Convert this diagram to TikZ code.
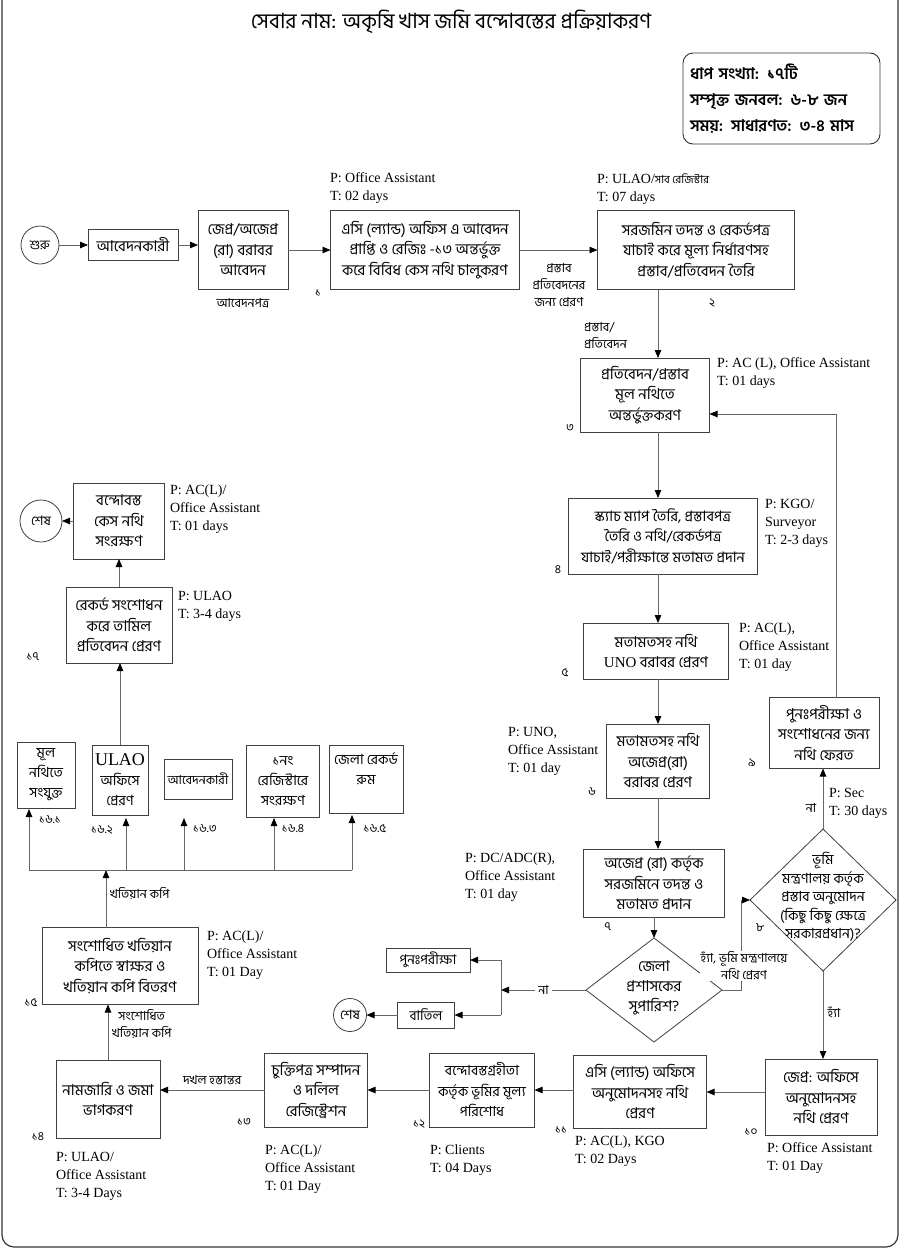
\documentclass[tikz,border=0pt]{standalone}
\usepackage{fontspec}
\setmainfont{Liberation Serif}
\newfontfamily\bn[Script=Bengali]{Hind Siliguri}
\usetikzlibrary{arrows.meta,shapes.geometric}

\newcommand\latn[1]{{\rmfamily #1}}

\tikzset{
  x=1pt, y=-1pt,
  every node/.style={inner sep=0pt, outer sep=0pt},
  box/.style={draw=black!75, line width=0.8pt, align=center, inner xsep=2pt,
    font=\bn\fontsize{15}{20.5}\selectfont},
  smallbox/.style={box, font=\bn\fontsize{14}{20}\selectfont},
  term/.style={draw=black!75, line width=0.8pt, circle,
    font=\bn\fontsize{13}{15}\selectfont},
  dec/.style={draw=black!75, line width=0.8pt, diamond},
  dectext/.style={align=center, font=\bn\fontsize{15}{20}\selectfont},
  conn/.style={draw=black!60, line width=0.8pt},
  arr/.style={conn, -{Triangle[length=8pt,width=6.5pt,color=black]}},
  ptlabel/.style={align=left, anchor=west, font=\fontsize{14}{18}\selectfont},
  note/.style={align=center, font=\bn\fontsize{12.5}{17}\selectfont},
  num/.style={font=\bn\fontsize{12}{14}\selectfont},
}

\begin{document}
\begin{tikzpicture}
\fill[white] (0,0) rectangle (902,1250);
\useasboundingbox (0,0) rectangle (902,1250);

% outer frame
\draw[black!80, line width=1.2pt, rounded corners=12pt] (2,-20) rectangle (898,1247);

% title and summary
\node[font=\bn\fontsize{21}{24}\selectfont] (title) at (451,22)
  {সেবার নাম: অকৃষি খাস জমি বন্দোবস্তের প্রক্রিয়াকরণ};
\node[draw=black!80, line width=0.9pt, rounded corners=10pt, anchor=north west,
  minimum width=197, minimum height=91, text width=183, align=left,
  font=\bn\bfseries\fontsize{16}{26}\selectfont] (info) at (683,53)
  {ধাপ সংখ্যা: ১৭টি\\সম্পৃক্ত জনবল: ৬-৮ জন\\সময়: সাধারণত: ৩-৪ মাস};

% ---------- top row ----------
\node[term, minimum size=38] (start) at (40,245) {শুরু};
\node[box, minimum width=90, minimum height=31] (a0) at (133,245) {আবেদনকারী};
\node[box, minimum width=90, minimum height=79] (b1) at (243,250)
  {জেপ্র/অজেপ্র\\(রা) বরাবর\\আবেদন};
\node[note] (b1n) at (243,303) {আবেদনপত্র};
\node[num] (n1) at (318,293) {১};
\node[box, minimum width=189, minimum height=79] (b2) at (425,250)
  {এসি (ল্যান্ড) অফিস এ আবেদন\\প্রাপ্তি ও রেজিঃ -১৩ অন্তর্ভুক্ত\\করে বিবিধ কেস নথি চালুকরণ};
\node[ptlabel] (p2) at (330,188) {P: Office Assistant\\T: 02 days};
\node[box, minimum width=197, minimum height=79] (b3) at (696,250)
  {সরজমিন তদন্ত ও রেকর্ডপত্র\\যাচাই করে মূল্য নির্ধারণসহ\\প্রস্তাব/প্রতিবেদন তৈরি};
\node[ptlabel] (p3) at (597,189) {P: ULAO/{\bn\fontsize{11}{18}\selectfont সাব রেজিস্টার}\\T: 07 days};
\node[num] (n2) at (712,303) {২};

\draw[arr] (start) -- (a0);
\draw[arr] (a0.east) -- (a0.east -| b1.west);
\draw[arr] (b1) -- (b2);
\draw[arr] (b2) -- (b3);
\node[note] (l23) at (559,285) {প্রস্তাব\\প্রতিবেদনের\\জন্য প্রেরণ};

% ---------- right column ----------
\coordinate (tr) at (658,0);
\node[box, minimum width=129, minimum height=74] (b4) at (645,395)
  {প্রতিবেদন/প্রস্তাব\\মূল নথিতে\\অন্তর্ভুক্তকরণ};
\node[ptlabel] (p4) at (717,373) {P: AC (L), Office Assistant\\T: 01 days};
\node[num] (n3) at (570,428) {৩};
\draw[arr] (b3.south -| tr) -- (b4.north -| tr);
\node[note, align=left, anchor=west] (l34) at (584,336) {প্রস্তাব/\\প্রতিবেদন};

\node[box, font=\bn\fontsize{14.5}{20.5}\selectfont, minimum width=189, minimum height=76] (b5) at (663,536)
  {স্ক্যাচ ম্যাপ তৈরি, প্রস্তাবপত্র\\তৈরি ও নথি/রেকর্ডপত্র\\যাচাই/পরীক্ষান্তে মতামত প্রদান};
\node[ptlabel] (p5) at (765,523) {P: KGO/\\Surveyor\\T: 2-3 days};
\node[num] (n4) at (558,570) {৪};
\draw[arr] (b4.south -| tr) -- (b5.north -| tr);

\node[box, minimum width=145, minimum height=56] (b6) at (656,651)
  {মতামতসহ নথি\\\latn{UNO} বরাবর প্রেরণ};
\node[ptlabel] (p6) at (739,647) {P: AC(L),\\Office Assistant\\T: 01 day};
\node[num] (n5) at (565,673) {৫};
\draw[arr] (b5.south -| tr) -- (b6.north -| tr);

\node[box, minimum width=103, minimum height=74] (b7) at (658,761)
  {মতামতসহ নথি\\অজেপ্র(রা)\\বরাবর প্রেরণ};
\node[ptlabel] (p7) at (508,751) {P: UNO,\\Office Assistant\\T: 01 day};
\node[num] (n6) at (592,792) {৬};
\draw[arr] (b6.south -| tr) -- (b7.north -| tr);

\node[box, minimum width=141, minimum height=68] (b8) at (654,883)
  {অজেপ্র (রা) কর্তৃক\\সরজমিনে তদন্ত ও\\মতামত প্রদান};
\node[ptlabel] (p8) at (465,877) {P: DC/ADC(R),\\Office Assistant\\T: 01 day};
\node[num] (n7) at (608,927) {৭};
\draw[arr] (b7.south -| tr) -- (b8.north -| tr);

% district recommendation
\node[dec, minimum width=136, minimum height=104] (d7) at (654,990) {};
\node[dectext] (d7t) at (654,988) {জেলা\\প্রশাসকের\\সুপারিশ?};
\draw[arr] (b8.south -| d7.north) -- (d7.north);

\coordinate (j) at (501,990);
\coordinate (jt) at (501,960);
\coordinate (jb) at (501,1015);
\node[box, font=\bn\fontsize{13.5}{15}\selectfont, minimum width=84, minimum height=24] (rc) at (428,960) {পুনঃপরীক্ষা};
\node[box, font=\bn\fontsize{13.5}{15}\selectfont, minimum width=57, minimum height=26] (cx) at (426,1015) {বাতিল};
\node[term, minimum size=33] (end2) at (350,1015) {শেষ};
\draw[arr] (d7.west) -- node[note, fill=white, inner xsep=3pt] (no7) {না} (j);
\draw[conn] (jt) -- (jb);
\draw[arr] (jt) -- (rc.east);
\draw[arr] (jb) -- (cx.east);
\draw[arr] (cx) -- (end2);

% ministry approval
\node[dec, minimum width=146, minimum height=142] (d8) at (823,900) {};
\node[dectext, font=\bn\fontsize{14}{18.5}\selectfont] (d8t) at (823,897)
  {ভূমি\\মন্ত্রণালয় কর্তৃক\\প্রস্তাব অনুমোদন\\(কিছু কিছু ক্ষেত্রে\\সরকারপ্রধান)?};
\node[num] (n8) at (760,928) {৮};
\coordinate (k) at (741,990);
\draw[arr] (d7.east) -- (k) -- (k |- d8.west) -- (d8.west);
\node[note, fill=white, inner sep=1pt] (yes7) at (744,966) {হ্যাঁ, ভূমি মন্ত্রণালয়ে\\নথি প্রেরণ};

\node[box, minimum width=110, minimum height=71] (b9) at (824,733)
  {পুনঃপরীক্ষা ও\\সংশোধনের জন্য\\নথি ফেরত};
\node[num] (n9) at (752,763) {৯};
\draw[arr] (d8.north) -- (b9.south -| d8.north);
\node[note] (no8) at (811,808) {না};
\node[ptlabel] (p9) at (829,803) {P: Sec\\T: 30 days};
\coordinate (fb) at (836,414);
\draw[arr] (b9.north -| fb) -- (fb) -- (b4.east |- fb);

% ---------- bottom row ----------
\node[box, minimum width=112, minimum height=76] (b10) at (821,1097)
  {জেপ্র: অফিসে\\অনুমোদনসহ\\নথি প্রেরণ};
\node[num] (n10) at (751,1132) {১০};
\node[ptlabel] (p10) at (767,1158) {P: Office Assistant\\T: 01 Day};
\draw[arr] (d8.south) -- (b10.north -| d8.south);
\node[note] (yes8) at (834,1012) {হ্যাঁ};

\node[box, minimum width=133, minimum height=73] (b11) at (640,1092)
  {এসি (ল্যান্ড) অফিসে\\অনুমোদনসহ নথি\\প্রেরণ};
\node[num] (n11) at (561,1130) {১১};
\node[ptlabel] (p11) at (575,1151) {P: AC(L), KGO\\T: 02 Days};

\node[box, font=\bn\fontsize{14}{20.5}\selectfont, minimum width=105, minimum height=74] (b12) at (482,1090)
  {বন্দোবস্তগ্রহীতা\\কর্তৃক ভূমির মূল্য\\পরিশোধ};
\node[num] (n12) at (419,1124) {১২};
\node[ptlabel] (p12) at (430,1160) {P: Clients\\T: 04 Days};

\node[box, minimum width=103, minimum height=74] (b13) at (316,1090)
  {চুক্তিপত্র সম্পাদন\\ও দলিল\\রেজিস্ট্রেশন};
\node[num] (n13) at (244,1122) {১৩};
\node[ptlabel] (p13) at (265,1169) {P: AC(L)/\\Office Assistant\\T: 01 Day};

\node[box, minimum width=104, minimum height=78] (b14) at (108,1099)
  {নামজারি ও জমা\\ভাগকরণ};
\node[num] (n14) at (38,1137) {১৪};
\node[ptlabel] (p14) at (56,1176) {P: ULAO/\\Office Assistant\\T: 3-4 Days};

\draw[arr] (b10.west |- b11.east) -- (b11.east);
\draw[arr] (b11.west |- b12.east) -- (b12.east);
\draw[arr] (b12) -- (b13);
\draw[arr] (b13.west) -- node[note, above=5pt] (l1314) {দখল হস্তান্তর} (b13.west -| b14.east);

% ---------- left column ----------
\node[box, minimum width=156, minimum height=77] (b15) at (120,966)
  {সংশোধিত খতিয়ান\\কপিতে স্বাক্ষর ও\\খতিয়ান কপি বিতরণ};
\node[num] (n15) at (31,1003) {১৫};
\node[ptlabel] (p15) at (207,955) {P: AC(L)/\\Office Assistant\\T: 01 Day};
\draw[arr] (b14.north) -- (b15.south -| b14.north);
\node[note, anchor=west] (l1415) at (112,1024) {সংশোধিত\\খতিয়ান কপি};

% copies distributed
\coordinate (hb) at (106,870);
\coordinate (h1) at (29,870);
\coordinate (h2) at (126,870);
\coordinate (h3) at (184,870);
\coordinate (h4) at (274,870);
\coordinate (h5) at (352,870);
\coordinate (t1) at (29,809);
\coordinate (t2) at (126,818);
\coordinate (t3) at (184,818);
\coordinate (t4) at (274,818);
\coordinate (t5) at (352,815);
\draw[arr] (b15.north -| hb) -- (hb);
\node[note, anchor=west] (l15h) at (110,894) {খতিয়ান কপি};
\draw[conn] (h1) -- (h5);
\draw[arr] (h1) -- (t1);
\draw[arr] (h2) -- (t2);
\draw[arr] (h3) -- (t3);
\draw[arr] (h4) -- (t4);
\draw[arr] (h5) -- (t5);

\node[smallbox, minimum width=58, minimum height=66] (c1) at (46,775) {মূল\\নথিতে\\সংযুক্ত};
\node[smallbox, minimum width=56, minimum height=70] (c2) at (120,780)
  {{\rmfamily\fontsize{18}{20}\selectfont ULAO}\\অফিসে\\প্রেরণ};
\node[box, font=\bn\fontsize{12.5}{14}\selectfont, minimum width=68, minimum height=40] (c3) at (198,779) {আবেদনকারী};
\node[smallbox, minimum width=73, minimum height=72] (c4) at (283,781) {১নং\\রেজিস্টারে\\সংরক্ষণ};
\node[smallbox, minimum width=74, minimum height=68] (c5) at (366,779) {জেলা রেকর্ড\\রুম\\\mbox{}};
\node[num] (n161) at (50,820) {১৬.১};
\node[num] (n162) at (102,830) {১৬.২};
\node[num] (n163) at (205,829) {১৬.৩};
\node[num] (n164) at (293,829) {১৬.৪};
\node[num] (n165) at (375,829) {১৬.৫};

\node[box, minimum width=106, minimum height=76] (b17) at (119,625)
  {রেকর্ড সংশোধন\\করে তামিল\\প্রতিবেদন প্রেরণ};
\node[num] (n17) at (33,657) {১৭};
\node[ptlabel] (p17) at (178,606) {P: ULAO\\T: 3-4 days};
\draw[arr] (c2.north) -- (b17.south -| c2.north);

\node[box, minimum width=91, minimum height=76] (b18) at (119,521)
  {বন্দোবস্ত\\কেস নথি\\সংরক্ষণ};
\node[ptlabel] (p18) at (170,509) {P: AC(L)/\\Office Assistant\\T: 01 days};
\draw[arr] (b17.north) -- (b18.south -| b17.north);
\node[term, minimum size=42] (end1) at (41,521) {শেষ};
\draw[arr] (b18.west) -- (end1.east);

\end{tikzpicture}
\end{document}
